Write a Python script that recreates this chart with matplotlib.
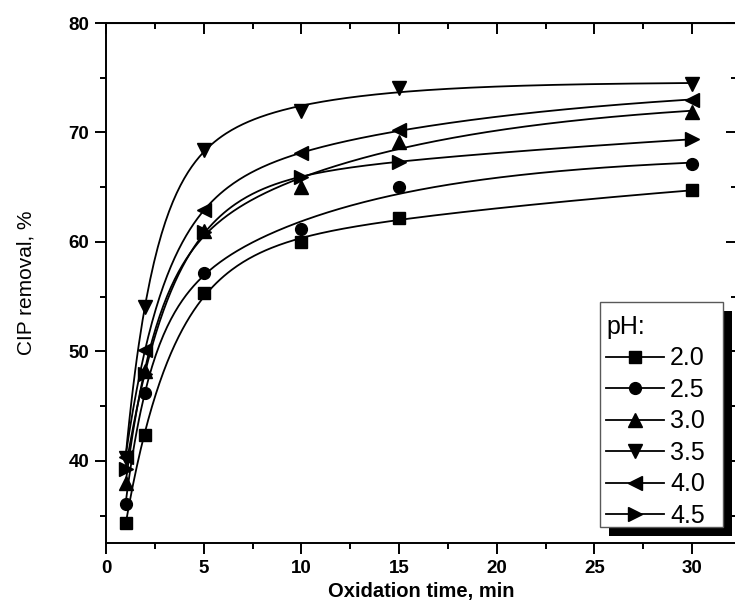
import numpy as np
import matplotlib
matplotlib.use("Agg")
import matplotlib.pyplot as plt
from matplotlib.patches import Rectangle
from matplotlib.transforms import IdentityTransform
from matplotlib.ticker import MultipleLocator

plt.rcParams["font.family"] = ["Liberation Sans", "DejaVu Sans"]

# %% data
time = [1, 2, 5, 10, 15, 30]
ph_labels = ["2.0", "2.5", "3.0", "3.5", "4.0", "4.5"]
ph20 = [34.3, 42.4, 55.3, 60.0, 62.2, 64.7]
ph25 = [36.1, 46.2, 57.2, 61.2, 65.0, 67.1]
ph30 = [38.0, 48.2, 61.0, 65.0, 69.1, 71.9]
ph35 = [40.3, 54.1, 68.4, 72.0, 74.1, 74.4]
ph40 = [40.4, 50.1, 62.9, 68.1, 70.2, 73.0]
ph45 = [39.3, 47.9, 60.9, 65.9, 67.3, 69.4]
series = [ph20, ph25, ph30, ph35, ph40, ph45]
markers = ["s", "o", "^", "v", "<", ">"]
msizes = [8, 8.5, 10, 10, 10, 10]


def fit_curve(t, y, tt):
    # monotonic two-rate fit: y = a - b*exp(-k1 t) - c*exp(-k2 t), b, c >= 0
    t = np.asarray(t, float)
    y = np.asarray(y, float)
    best = None
    for k1 in np.linspace(0.2, 1.0, 81):
        for k2 in np.linspace(0.02, 0.18, 33):
            A = np.column_stack([np.ones_like(t), -np.exp(-k1 * t), -np.exp(-k2 * t)])
            coef, *_ = np.linalg.lstsq(A, y, rcond=None)
            if coef[1] < 0 or coef[2] < 0:
                continue
            err = np.sum((A @ coef - y) ** 2)
            if best is None or err < best[0]:
                best = (err, k1, k2, coef)
    _, k1, k2, (a, b, c) = best
    return a - b * np.exp(-k1 * tt) - c * np.exp(-k2 * tt)


fig = plt.figure(figsize=(7.35, 6.08), dpi=100)
ax = fig.add_axes([106 / 735, 65 / 608, 631 / 735, 520 / 608])

tt = np.linspace(1, 30, 300)
for y, m, ms, lab in zip(series, markers, msizes, ph_labels):
    ax.plot(tt, fit_curve(time, y, tt), color="black", lw=1.3, zorder=2)
    ax.plot(time, y, linestyle="none", marker=m, ms=ms, color="black", zorder=3)
    # legend proxy (line + marker)
    ax.plot([], [], color="black", lw=1.3, marker=m, ms=ms, label=lab)

ax.set_xlim(0, 32.3)
ax.set_ylim(32.5, 80)
ax.xaxis.set_major_locator(MultipleLocator(5))
ax.xaxis.set_minor_locator(MultipleLocator(2.5))
ax.yaxis.set_major_locator(MultipleLocator(10))
ax.yaxis.set_minor_locator(MultipleLocator(5))

for s in ax.spines.values():
    s.set_linewidth(1.4)
ax.tick_params(which="both", direction="out", width=1.4, top=False, right=False)
ax.tick_params(which="major", length=8, labelsize=13.5, pad=4)
ax.tick_params(which="minor", length=4.5)
for lbl in ax.get_xticklabels() + ax.get_yticklabels():
    lbl.set_fontweight("bold")

# inward ticks on top / right, Origin style
ax2 = ax.secondary_xaxis("top")
ax2.xaxis.set_major_locator(MultipleLocator(5))
ax2.xaxis.set_minor_locator(MultipleLocator(2.5))
ax2.tick_params(which="both", direction="in", width=1.4, labeltop=False)
ax2.tick_params(which="major", length=8)
ax2.tick_params(which="minor", length=4.5)
ax3 = ax.secondary_yaxis("right")
ax3.yaxis.set_major_locator(MultipleLocator(10))
ax3.yaxis.set_minor_locator(MultipleLocator(5))
ax3.tick_params(which="both", direction="in", width=1.4, labelright=False)
ax3.tick_params(which="major", length=8)
ax3.tick_params(which="minor", length=4.5)

ax.set_xlabel("Oxidation time, min", fontsize=14.5, fontweight="bold", labelpad=4)
ax.set_ylabel("CIP removal, %", fontsize=15, labelpad=24)

# legend contents; frame + shadow drawn by hand below (content sits a bit low in the box)
shift = 7
leg = ax.legend(title="pH:", loc="lower left", mode="expand",
                bbox_to_anchor=(600 / 735, (81 - shift) / 608, 123 / 735, 0.3),
                bbox_transform=fig.transFigure, fontsize=18, title_fontsize=18,
                alignment="left", frameon=False,
                handlelength=2.3, handletextpad=0.25, labelspacing=0.3,
                borderpad=0.25, borderaxespad=0)
leg.set_zorder(6)

fig.canvas.draw()
bb = leg.get_window_extent()
d = 9
ax.add_patch(Rectangle((bb.x0, bb.y0 + shift), bb.width, bb.height,
                       transform=IdentityTransform(), facecolor="white",
                       edgecolor="0.35", lw=1.0, zorder=5.6, clip_on=False))
ax.add_patch(Rectangle((bb.x0 + d, bb.y0 + shift - d), bb.width, bb.height,
                       transform=IdentityTransform(), facecolor="black",
                       edgecolor="none", zorder=5.5, clip_on=False))

fig.savefig("out.png", dpi=100)
